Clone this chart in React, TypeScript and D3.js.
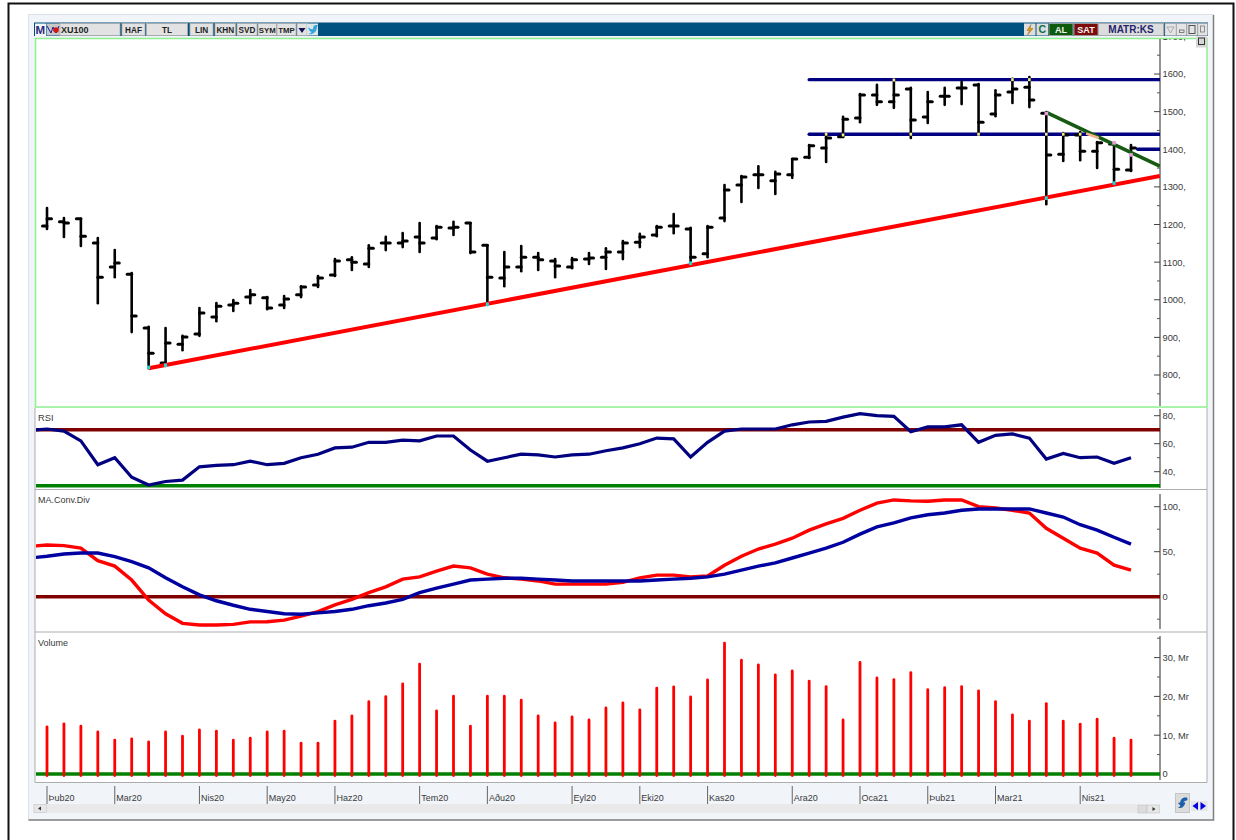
import React from "react";
import * as d3 from "d3";

// [open, high, low, close] per weekly bar
const ohlc: number[][] = [
  [1196,1244,1188,1215],[1207,1217,1167,1204],[1215,1215,1143,1169],[1151,1164,991,1060],[1087,1132,1060,1098],
  [1068,1071,914,957],[925,928,818,858],[832,925,824,885],[882,904,866,901],[909,978,904,965],
  [954,991,943,983],[986,999,970,991],[1007,1026,991,1013],[1005,1007,975,978],[986,1010,978,1002],
  [1013,1036,1007,1034],[1039,1063,1034,1058],[1066,1108,1063,1103],[1106,1113,1079,1100],[1095,1145,1087,1137],
  [1151,1167,1132,1151],[1151,1177,1140,1156],[1167,1204,1127,1151],[1164,1196,1161,1193],[1191,1207,1172,1193],
  [1204,1204,1124,1127],[1145,1145,986,1060],[1058,1127,1036,1087],[1087,1143,1076,1113],[1113,1124,1079,1106],
  [1103,1108,1060,1090],[1087,1111,1084,1106],[1108,1124,1095,1111],[1113,1137,1082,1127],[1127,1156,1108,1151],
  [1153,1175,1140,1167],[1172,1196,1169,1193],[1196,1228,1177,1196],[1188,1191,1095,1113],[1122,1196,1113,1193],
  [1217,1305,1209,1292],[1305,1329,1260,1326],[1332,1355,1297,1332],[1316,1340,1281,1334],[1332,1374,1324,1374],
  [1379,1411,1377,1409],[1403,1440,1366,1430],[1433,1486,1433,1480],[1483,1547,1472,1544],[1544,1571,1518,1526],
  [1526,1584,1510,1544],[1560,1563,1430,1478],[1486,1552,1470,1526],[1541,1563,1518,1541],[1563,1579,1520,1563],
  [1571,1573,1440,1472],[1494,1557,1488,1544],[1552,1587,1523,1560],[1565,1592,1512,1531],[1496,1499,1254,1385],
  [1387,1443,1369,1438],[1438,1446,1371,1395],[1395,1419,1350,1417],[1414,1417,1308,1347],[1345,1411,1342,1403],
];

// first value of each indicator belongs to the partial bar left of the first full bar
const rsi = [69.5,70.5,69,62,45,50,36,30.5,33,34,43.5,44.5,45,47.5,45,46,50,52.5,57,57.5,61,61,62.5,62,65.5,65.5,55.5,47.5,50,52.5,52,50.5,52,52.5,55,57,60,64,63.5,50.5,61,69,70.5,70.5,70.5,73.5,75.5,76,79,81.5,80,79.5,68.5,72,72,73.5,61,66,67,64,49,53,50,50.5,46,50];
const macdRed = [56,57.4,56.7,54,40,34,18.5,-3.7,-19,-29.6,-31.5,-31.5,-30.7,-28,-27.8,-26,-21.5,-16.5,-9,-3,4.5,11,19.5,22,28.5,34,32,25,21,19.5,17.5,14,14,14,14,16,21,24,24,22,23,35,45,53,58.5,65,74,81,87,96,104,107.5,106.5,106,107.5,107.5,100,98.5,96,93,76,65,54,48.5,35,29.5];
const macdBlue = [43,45,47.5,48.5,48.5,44.5,39,32,21,11,2,-4.5,-9.5,-14,-16.5,-19,-19.5,-18,-16.5,-14,-10,-7,-3,4.5,9.5,14,18.5,19.5,20.5,20.5,19.5,18.5,17.5,17.5,17.5,17.5,17.5,18.5,19.5,20.5,22,25,29.5,34,37.5,43,48.5,54,60.5,69.5,77.5,82,87.5,91,93,96,97.5,97.5,97.5,97.5,93,88.5,80,74,66,58.5];
const volume = [12.4,13.2,12.6,11.1,9,9.3,8.5,11.1,10,11.6,11.3,9,9.5,11.1,11.3,8.2,8.2,13.9,15.2,18.9,20.2,23.5,28.6,16.5,20.3,12.6,20.3,20.3,19.3,15.2,13.4,15,14.2,17.3,18.6,16.8,22.4,22.7,20.1,24.5,34,29.6,28.4,25.8,26.8,24.2,22.8,14.2,29,25,24.6,26.4,22,22.5,22.8,21.7,18.9,15.5,13.9,18.4,13.9,13.1,14.4,9.5,9];

const monthLabels = ["Þub20","Mar20","Nis20","May20","Haz20","Tem20","Aðu20","Eyl20","Eki20","Kas20","Ara20","Oca21","Þub21","Mar21","Nis21"];
const monthBars = [0,4,9,13,17,22,26,31,35,39,44,48,52,56,61];

const priceMajor = [800,900,1000,1100,1200,1300,1400,1500,1600,1700];
const priceMinor = [750,850,950,1050,1150,1250,1350,1450,1550,1650];
const rsiMajor = [40,60,80]; const rsiMinor = [50,70];
const macdMajor = [0,50,100]; const macdMinor = [-25,25,75];
const volMajor = [0,10,20,30]; const volMinor = [5,15,25,35];

// trend lines as [bar, price] end points
const supportLine = [[6,818],[65.7,1329]];
const resistanceLine = [[59,1498],[65.7,1355]];
const levelTop = [[45,1585],[65.7,1585]];
const levelMid = [[45,1440],[65.7,1440]];
const levelLow = [[64.4,1400],[65.7,1400]];
const touchYellow = [[46,1440],[47,1438],[50,1584],[51,1440],[55,1440],[57,1585],[58,1585],[59,1440],[60,1440],[61,1440]];
const touchCyan = [[6,820],[7,826],[26,988],[38,1097],[59,1270],[63,1310]];
const touchPink = [[59,1495],[63,1417],[64,1385]];
const touchOrange = [[61.35,1442],[62.1,1430]];

const FONT = "'Liberation Sans', Arial, sans-serif";
const TXT = "#3a3a3a";

const x = d3.scaleLinear().domain([0, 64]).range([47, 1131]);
const yPrice = d3.scaleLinear().domain([800, 1600]).range([375, 74]);
const yRsi = d3.scaleLinear().domain([40, 80]).range([471.7, 415.7]);
const yMacd = d3.scaleLinear().domain([0, 100]).range([596.7, 506.7]);
const yVol = d3.scaleLinear().domain([0, 30]).range([774, 657.6]);

const AXIS_X = 1160;
const L = 36;

function Axis({ y, major, minor, fmt, top, bottom }: any) {
  return (
    <g>
      <line x1={AXIS_X} x2={AXIS_X} y1={top} y2={bottom} stroke="#707070" strokeWidth={1.5} />
      {minor.map((v: number) => <line key={v} x1={AXIS_X - 3} x2={AXIS_X} y1={y(v)} y2={y(v)} stroke="#555" />)}
      {major.map((v: number) => (
        <g key={v}>
          <line x1={AXIS_X - 6} x2={AXIS_X} y1={y(v)} y2={y(v)} stroke="#444" />
          <text x={AXIS_X + 2.5} y={y(v) + 3.4} fontSize={9.3} fill={TXT} fontFamily={FONT}>{fmt(v)}</text>
        </g>
      ))}
    </g>
  );
}

const indicatorLine = (y: any) => d3.line<number>().x((_, i) => x(i - 1)).y((d) => y(d));
const trend = (pts: number[][]) => d3.line<number[]>().x((d) => x(d[0])).y((d) => yPrice(d[1]))(pts) as string;

function Btn({ x: bx, w, label, bg = "#e2e2e2", color = "#222", weight = 700, size = 8.2 }: any) {
  return (
    <g>
      <rect x={bx} y={23.5} width={w} height={12} fill={bg} stroke="#b0b0b0" strokeWidth={0.8} />
      <text x={bx + w / 2} y={33} textAnchor="middle" fontSize={size} fontWeight={weight} fill={color} fontFamily={FONT}>{label}</text>
    </g>
  );
}

export default function App() {
  return (
    <svg width={1236} height={840} style={{ position: "absolute", left: 0, top: 0, background: "#fff" }}>
      <defs>
        <clipPath id="pricePanel"><rect x={36} y={39} width={1171} height={367} /></clipPath>
        <clipPath id="plotPrice"><rect x={36} y={39} width={1124} height={367} /></clipPath>
        <clipPath id="plotRsi"><rect x={36} y={408} width={1124} height={81} /></clipPath>
        <clipPath id="plotMacd"><rect x={36} y={490} width={1124} height={141} /></clipPath>
      </defs>

      {/* page frame */}
      <path d="M8.5 840 V3.5 H1233.5 V840" fill="none" stroke="#111" strokeWidth={2} />

      {/* window */}
      <rect x={28.5} y={14.5} width={1185} height={805.5} fill="#f1f4f8" stroke="#dfe3e8" />
      <path d="M1213.5 15 V820 H28.5" fill="none" stroke="#808080" strokeWidth={1.5} />

      {/* toolbar */}
      <rect x={34} y={22.5} width={1174} height={13.5} fill="#005080" />
      <rect x={35} y={23.5} width={11} height={12.5} fill="#f1f4f8" />
      <text x={35.5} y={34} fontSize={11.5} fontWeight={700} fill="#2c2c80" fontFamily={FONT}>M</text>
      <rect x={46.5} y={23.5} width={13.5} height={12} fill="#c8c8c8" />
      <path d="M47 26 L51 33 L53 27 L56 33 L59 26" fill="none" stroke="#1818a0" strokeWidth={1} />
      <circle cx={56} cy={30} r={2.8} fill="#d01818" />
      <Btn x={60} w={60} label="" />
      <text x={61} y={33} fontSize={9} fontWeight={700} fill="#222" fontFamily={FONT}>XU100</text>
      <Btn x={122} w={23} label="HAF" />
      <Btn x={146.5} w={41} label="TL" />
      <Btn x={190} w={23} label="LIN" />
      <Btn x={215} w={20.5} label="KHN" />
      <Btn x={237} w={20} label="SVD" />
      <Btn x={258} w={18.5} label="SYM" size={7.8} />
      <Btn x={277} w={19} label="TMP" size={7.8} />
      <rect x={297} y={23.5} width={10} height={12} fill="#e2e2e2" stroke="#b0b0b0" strokeWidth={0.8} />
      <path d="M298.5 28 H305.5 L302 33 Z" fill="#101050" />
      <rect x={307} y={23.5} width={11} height={12} fill="#dfe6ea" />
      <path d="M308 27 Q311 30 313 29 Q313 25 316 25 L318 25 L317 27 Q317 32 312 34 Q310 34.5 308.5 33.5 Q311 33.5 311.5 32 Q309 31.5 308 27 Z" fill="#35a5dd" />

      <rect x={1024} y={23.5} width={11.5} height={12} fill="#dedede" />
      <path d="M1031 24.5 L1027 30.5 H1029.5 L1027.5 35 L1033 28.5 H1030 Z" fill="#e29a10" stroke="#7a5a10" strokeWidth={0.4} />
      <rect x={1036.5} y={23.5} width={11.5} height={12} fill="#dedede" />
      <text x={1042.2} y={33.2} textAnchor="middle" fontSize={10.5} fontWeight={700} fill="#0a6e50" fontFamily={FONT}>C</text>
      <Btn x={1049} w={24} label="AL" bg="#0c5a0c" color="#f4f4f4" size={9} />
      <Btn x={1074} w={24} label="SAT" bg="#7c0c0c" color="#f4f4f4" size={9} />
      <Btn x={1098.5} w={65} label="MATR:KS" bg="#dcdcdc" color="#24246e" size={10} />
      <rect x={1165} y={23.5} width={11} height={12} fill="#e4e4e4" stroke="#b4b4b4" strokeWidth={0.6} />
      <path d="M1167 27 H1174 L1170.5 33 Z" fill="none" stroke="#9a9aa0" strokeWidth={0.8} />
      <rect x={1176.5} y={23.5} width={10} height={12} fill="#e4e4e4" stroke="#b4b4b4" strokeWidth={0.6} />
      <rect x={1179.5} y={30} width={4.5} height={2.5} fill="none" stroke="#555" strokeWidth={0.7} />
      <rect x={1187} y={23.5} width={10.5} height={12} fill="#e4e4e4" stroke="#b4b4b4" strokeWidth={0.6} />
      <rect x={1189} y={25.5} width={6} height={8} fill="none" stroke="#444" strokeWidth={0.9} />
      <rect x={1198} y={23.5} width={9.5} height={12} fill="#e4e4e4" stroke="#b4b4b4" strokeWidth={0.6} />
      <rect x={1200.5} y={26} width={4} height={6} fill="none" stroke="#777" strokeWidth={0.8} />

      {/* panels */}
      <rect x={35} y={408} width={1172} height={374.5} fill="#fff" />
      <rect x={35.5} y={38.5} width={1171.5} height={368.5} fill="#fff" stroke="#90f090" strokeWidth={1.5} />
      <path d="M35 408 V782.5 H1207 V408 M35 489.5 H1207 M35 632 H1207" fill="none" stroke="#adadad" strokeWidth={1} />

      {/* price panel */}
      <g clipPath="url(#pricePanel)">
        <Axis y={yPrice} major={priceMajor} minor={priceMinor} fmt={(v: number) => `${v},`} top={39} bottom={406} />
      </g>
      <rect x={1196} y={36.5} width={11} height={11} fill="#d6d6d6" />
      <rect x={1198.5} y={38} width={6} height={6.5} fill="none" stroke="#333" strokeWidth={1} />
      <g clipPath="url(#plotPrice)">
        {[levelTop, levelMid, levelLow].map((l, i) => <path key={i} d={trend(l)} stroke="#000080" strokeWidth={3.4} fill="none" strokeLinecap="round" />)}
        {ohlc.map(([o, h, l, c], i) => (
          <g key={i} stroke="#000" fill="none">
            <line x1={x(i)} x2={x(i)} y1={yPrice(h)} y2={yPrice(l)} strokeWidth={2.6} strokeLinecap="round" />
            <line x1={x(i) - 4.5} x2={x(i)} y1={yPrice(o)} y2={yPrice(o)} strokeWidth={3} strokeLinecap="round" />
            <line x1={x(i)} x2={x(i) + 4.5} y1={yPrice(c)} y2={yPrice(c)} strokeWidth={3} strokeLinecap="round" />
          </g>
        ))}
        <path d={trend(supportLine)} stroke="#ff0000" strokeWidth={4} fill="none" />
        <path d={trend(resistanceLine)} stroke="#175a12" strokeWidth={3.6} fill="none" />
        <path d={trend(touchOrange)} stroke="#f5b48c" strokeWidth={2.5} fill="none" />
        {touchYellow.map(([b, p], i) => <rect key={i} x={x(b) - 1.3} y={yPrice(p) - 1.5} width={2.6} height={3} fill="#f4f080" />)}
        {touchCyan.map(([b, p], i) => <rect key={i} x={x(b) - 1.5} y={yPrice(p) - 1.8} width={3} height={3.6} fill="#20d8d8" />)}
        {touchPink.map(([b, p], i) => <rect key={i} x={x(b) - 1.8} y={yPrice(p) - 1.8} width={3.6} height={3.6} fill="#e8a0e0" />)}
      </g>

      {/* RSI */}
      <text x={38} y={420.5} fontSize={9.3} fill={TXT} fontFamily={FONT}>RSI</text>
      <Axis y={yRsi} major={rsiMajor} minor={rsiMinor} fmt={(v: number) => `${v},`} top={409} bottom={488} />
      <g clipPath="url(#plotRsi)">
        <line x1={L} x2={AXIS_X} y1={yRsi(70)} y2={yRsi(70)} stroke="#800000" strokeWidth={3.5} />
        <line x1={L} x2={AXIS_X} y1={yRsi(30)} y2={yRsi(30)} stroke="#008000" strokeWidth={3.5} />
        <path d={indicatorLine(yRsi)(rsi) as string} fill="none" stroke="#000080" strokeWidth={3.2} />
      </g>

      {/* MACD */}
      <text x={38} y={503} fontSize={9} fill={TXT} fontFamily={FONT}>MA.Conv.Div</text>
      <Axis y={yMacd} major={macdMajor} minor={macdMinor} fmt={(v: number) => (v === 0 ? "0" : `${v},`)} top={494} bottom={629} />
      <g clipPath="url(#plotMacd)">
        <line x1={L} x2={AXIS_X} y1={yMacd(0)} y2={yMacd(0)} stroke="#800000" strokeWidth={3.5} />
        <path d={indicatorLine(yMacd)(macdRed) as string} fill="none" stroke="#ff0000" strokeWidth={3.4} />
        <path d={indicatorLine(yMacd)(macdBlue) as string} fill="none" stroke="#0000a0" strokeWidth={3.4} />
      </g>

      {/* Volume */}
      <text x={38} y={646} fontSize={9} fill={TXT} fontFamily={FONT}>Volume</text>
      <Axis y={yVol} major={volMajor} minor={volMinor} fmt={(v: number) => (v === 0 ? "0" : `${v}, Mr`)} top={636} bottom={780} />
      <line x1={L} x2={AXIS_X} y1={yVol(0)} y2={yVol(0)} stroke="#008000" strokeWidth={3.6} />
      {volume.map((v, i) => (
        <line key={i} x1={x(i)} x2={x(i)} y1={yVol(v) + 1} y2={yVol(0) + 1.5} stroke="#ff0000" strokeWidth={2.8} strokeLinecap="round" />
      ))}

      {/* time axis */}
      {monthLabels.map((m, i) => (
        <g key={m + i}>
          <line x1={x(monthBars[i])} x2={x(monthBars[i])} y1={786} y2={804} stroke="#666" strokeWidth={1} />
          <text x={x(monthBars[i]) + 1.5} y={801} fontSize={9} fill={TXT} fontFamily={FONT}>{m}</text>
        </g>
      ))}

      {/* scrollbar */}
      <rect x={47} y={804} width={1091} height={9} fill="#e9e9e9" />
      <rect x={34} y={804.5} width={12.5} height={8} fill="#e6e6e6" stroke="#c4c4c4" strokeWidth={0.6} />
      <path d="M38 808.5 L41 806.5 V810.5 Z" fill="#333" />
      <rect x={1138} y={805} width={9} height={8} fill="#dcdcdc" stroke="#c4c4c4" strokeWidth={0.6} />
      <rect x={1147} y={805} width={12.5} height={8} fill="#e6e6e6" stroke="#c4c4c4" strokeWidth={0.6} />
      <path d="M1155.5 809 L1152.5 807 V811 Z" fill="#333" />

      {/* bottom-right controls */}
      <rect x={1175.5} y={793.5} width={14} height={19} fill="#dcdcdc" stroke="#c4c4c4" />
      <path d="M1187 798 Q1181 797 1180.5 803 L1178.5 803 L1182 807 L1185 803 L1183 803 Q1183.5 800 1187 800 Z M1178.5 807.5 Q1184 808.5 1184.5 802.5" fill="#1a5fa8" stroke="#1a5fa8" strokeWidth={0.8} />
      <rect x={1191} y={801} width={8} height={10} fill="#e6e6e6" />
      <rect x={1199.5} y={801} width={8} height={10} fill="#e6e6e6" />
      <path d="M1192.5 806 L1198 802 V810 Z" fill="#0000e0" />
      <path d="M1206 806 L1200.5 802 V810 Z" fill="#0000e0" />
    </svg>
  );
}
